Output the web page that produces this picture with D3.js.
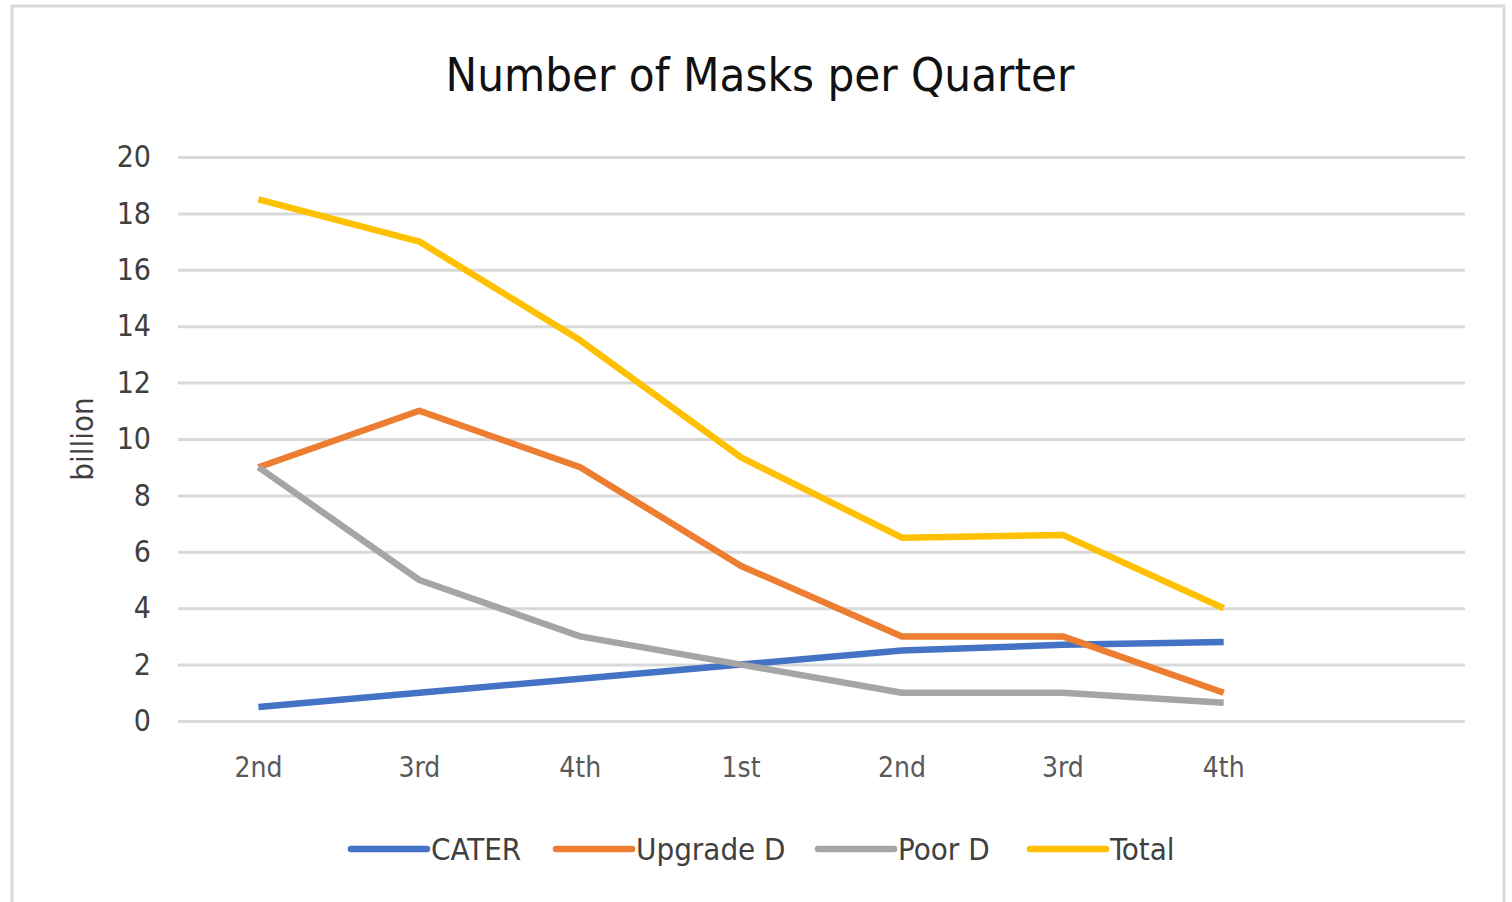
<!DOCTYPE html>
<html>
<head>
<meta charset="utf-8">
<script src="https://cdn.jsdelivr.net/npm/d3@7"></script>
<style>
  body { margin: 0; background: #fff; }
  text { font-family: "Liberation Sans Narrow", "DejaVu Sans Condensed", sans-serif; }
</style>
</head>
<body>
<div class="chart"></div>
<script>
// data
const quarters = ["2nd", "3rd", "4th", "1st", "2nd", "3rd", "4th", ""];
const cater    = [0.5, 1, 1.5, 2, 2.5, 2.7, 2.8];
const upgradeD = [9, 11, 9, 5.5, 3, 3, 1];
const poorD    = [9, 5, 3, 2, 1, 1, 0.65];
const total    = [18.5, 17, 13.5, 9.35, 6.5, 6.6, 4];
const yTicks   = [0, 2, 4, 6, 8, 10, 12, 14, 16, 18, 20];

const series = [
  {name: "CATER", values: cater, color: "#4472c4"},
  {name: "Upgrade D", values: upgradeD, color: "#ed7d31"},
  {name: "Poor D", values: poorD, color: "#a5a5a5"},
  {name: "Total", values: total, color: "#ffc000"}
];

const W = 1512, H = 902;
const margin = ({top: 157, right: 47, bottom: 181, left: 178});
const w = W - margin.left - margin.right,
      h = H - margin.top - margin.bottom;

const root = d3.select(".chart").append("svg")
  .attr("width", W).attr("height", H);

//outer frame
root.append("rect")
  .attr("x", 12).attr("y", 6)
  .attr("width", 1492).attr("height", 900)
  .attr("fill", "white")
  .attr("stroke", "#d9d9d9")
  .attr("stroke-width", 3);

root.append("text")
  .attr("x", 760).attr("y", 91)
  .attr("text-anchor", "middle")
  .attr("font-size", 47)
  .attr("fill", "#111")
  .text("Number of Masks per Quarter");

const svg = root.append("g")
  .attr("transform", `translate(${margin.left},${margin.top})`);

const xScale = d3.scaleBand()
  .domain(d3.range(quarters.length))
  .range([0, w]);

const yScale = d3.scaleLinear()
  .domain([0, 20])
  .range([h, 0]);

//grid
const yAxis = d3.axisLeft(yScale).tickValues(yTicks).tickSize(-w).tickPadding(27);
svg.append("g")
  .attr("class", "y-axis")
  .call(yAxis)
  .call(g => g.select(".domain").remove())
  .call(g => g.selectAll(".tick line").attr("stroke", "#d9d9d9").attr("stroke-width", 3))
  .call(g => g.selectAll(".tick text").attr("font-size", 30).attr("fill", "#404040"));

const xAxis = d3.axisBottom(xScale).tickFormat(i => quarters[i]).tickSize(0).tickPadding(36);
svg.append("g")
  .attr("class", "x-axis")
  .attr("transform", `translate(0,${h})`)
  .call(xAxis)
  .call(g => g.select(".domain").remove())
  .call(g => g.selectAll(".tick text").attr("font-size", 28).attr("fill", "#595959"));

//axis title
root.append("text")
  .attr("transform", `translate(93,439) rotate(-90)`)
  .attr("text-anchor", "middle")
  .attr("font-size", 31)
  .attr("fill", "#404040")
  .text("billion");

const line = d3.line()
  .x((d, i) => xScale(i) + xScale.bandwidth() / 2)
  .y(d => yScale(d));

svg.selectAll(".series")
  .data(series)
  .enter()
  .append("path")
  .attr("fill", "none")
  .attr("stroke", d => d.color)
  .attr("stroke-width", 6.5)
  .attr("stroke-linejoin", "round")
  .attr("d", d => line(d.values));

//legend
const legendX = [351, 556, 818, 1030];
const legend = root.selectAll(".legend")
  .data(series)
  .enter()
  .append("g")
  .attr("transform", (d, i) => `translate(${legendX[i]},849)`);

legend.append("line")
  .attr("x1", 0).attr("x2", 76)
  .attr("stroke", d => d.color)
  .attr("stroke-width", 6.5)
  .attr("stroke-linecap", "round");

legend.append("text")
  .attr("x", 80).attr("y", 11)
  .attr("font-size", 31)
  .attr("fill", "#404040")
  .text(d => d.name);
</script>
</body>
</html>
